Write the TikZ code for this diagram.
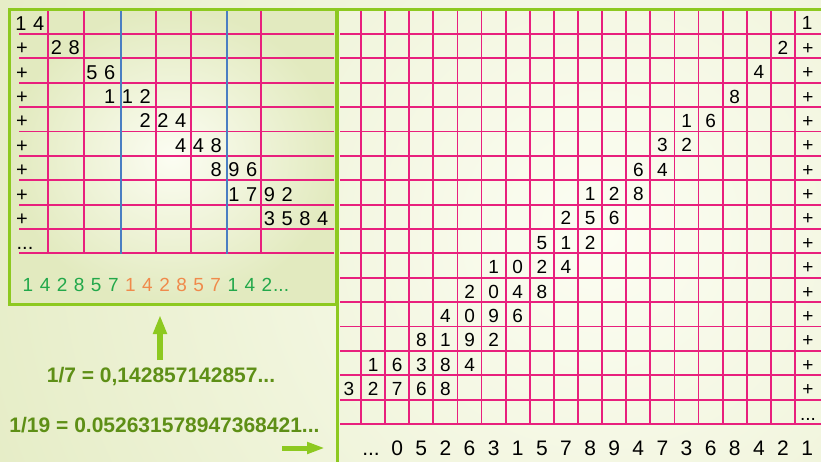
\documentclass[tikz,border=0pt]{standalone}
\usepackage{fontspec}
\setmainfont{Liberation Sans}
\usetikzlibrary{arrows.meta}
\definecolor{pinkc}{HTML}{E8207D}
\definecolor{bluec}{HTML}{4A7EC2}
\definecolor{greenb}{HTML}{8DC920}
\definecolor{darkg}{HTML}{5E8F16}
\definecolor{digg}{HTML}{22A84A}
\definecolor{digo}{HTML}{F08A4B}
\definecolor{bgin}{HTML}{FCFDF3}
\definecolor{bgout}{HTML}{E2EABF}
\newcommand\lrow[3]{%
  \foreach \d [count=\i from #2] in {#3} {\node[digL] (L-#1-\i) at ({21+17.75*\i},{30.5+24.375*#1}) {\d};}}
\newcommand\rrow[3]{%
  \foreach \d [count=\i from #2] in {#3} {\node[digR] (R-#1-\i) at ({349+24.11*\i},{30+24.375*#1}) {\d};}}
\begin{document}
\begin{tikzpicture}[x=1pt,y=-1pt,
  pinkline/.style={draw=pinkc,line width=1.8pt},
  blueline/.style={draw=bluec,line width=1.6pt},
  border/.style={draw=greenb,line width=3pt},
  digL/.style={font=\fontsize{20}{20}\selectfont,anchor=base,inner sep=0pt},
  digR/.style={font=\fontsize{19}{19}\selectfont,anchor=base,inner sep=0pt},
  digB/.style={font=\fontsize{21}{21}\selectfont,anchor=base,inner sep=0pt},
  digS/.style={font=\fontsize{19}{19}\selectfont,anchor=base,inner sep=0pt},
  formula/.style={font=\fontsize{21}{21}\selectfont\bfseries,text=darkg,anchor=base,inner sep=0pt},
  garrow/.style={draw=greenb}]
\useasboundingbox (0,0) rectangle (821,462);
% background
\begin{scope}
  \clip (0,0) rectangle (821,462);
  \shade[inner color=bgin,outer color=bgout] (600,230) circle[radius=760pt];
  \shade[inner color=bgin,outer color=bgout] (9,9) rectangle (336,304);
\end{scope}
% left grid
\foreach \k in {0,...,9} \draw[pinkline] (19,{34+24.375*\k}) -- (334,{34+24.375*\k});
\foreach \x in {48,84,156,191,261} \draw[pinkline] (\x,10) -- (\x,254);
\foreach \x in {121,227} \draw[blueline] (\x,10) -- (\x,254);
% right grid
\foreach \k in {0,...,16} \draw[pinkline] (340,{34+24.375*\k}) -- (821,{34+24.375*\k});
\foreach \k in {0,...,18} \draw[pinkline] ({361+24.11*\k},10) -- ({361+24.11*\k},424);
% borders
\draw[border] (9.5,9.5) rectangle (336,304);
\draw[border] (337.5,462) -- (337.5,9.5) -- (822,9.5);
% left numbers
\lrow{0}{0}{1,4}
\lrow{1}{2}{2,8}
\lrow{2}{4}{5,6}
\lrow{3}{5}{1,1,2}
\lrow{4}{7}{2,2,4}
\lrow{5}{9}{4,4,8}
\lrow{6}{11}{8,9,6}
\lrow{7}{12}{1,7,9,2}
\lrow{8}{14}{3,5,8,4}
\foreach \r in {1,...,8} \node[digL] (LP-\r) at (22,{30.5+24.375*\r}) {+};
\node[digL] (LD) at (25,{30.5+24.375*9}) {...};
% green sequence
\foreach \d [count=\i from 0] in {1,4,2,8,5,7} \node[digS,text=digg] (G-\i) at ({28+17.07*\i},291.5) {\d};
\foreach \d [count=\i from 6] in {1,4,2,8,5,7} \node[digS,text=digo] (G-\i) at ({28+17.07*\i},291.5) {\d};
\foreach \d [count=\i from 12] in {1,4,2} \node[digS,text=digg] (G-\i) at ({28+17.07*\i},291.5) {\d};
\node[digS,text=digg,anchor=base west] (GD) at (273,291.5) {...};
% right numbers
\rrow{0}{19}{1}
\rrow{1}{18}{2}
\rrow{2}{17}{4}
\rrow{3}{16}{8}
\rrow{4}{14}{1,6}
\rrow{5}{13}{3,2}
\rrow{6}{12}{6,4}
\rrow{7}{10}{1,2,8}
\rrow{8}{9}{2,5,6}
\rrow{9}{8}{5,1,2}
\rrow{10}{6}{1,0,2,4}
\rrow{11}{5}{2,0,4,8}
\rrow{12}{4}{4,0,9,6}
\rrow{13}{3}{8,1,9,2}
\rrow{14}{1}{1,6,3,8,4}
\rrow{15}{0}{3,2,7,6,8}
\foreach \r in {1,...,15} \node[digR] (RP-\r) at (808,{30+24.375*\r}) {+};
\node[digR] (RD) at (808,{30+24.375*16}) {...};
% bottom digits of 1/19
\node[digB] (BD) at (371,455) {...};
\foreach \d [count=\i from 2] in {0,5,2,6,3,1,5,7,8,9,4,7,3,6,8,4,2,1}
  \node[digB] (B-\i) at ({349+24.11*\i},455) {\d};
% formulas
\node[formula] (f7) at (161,382) {1/7 = 0,142857142857...};
\node[formula] (f19) at (164.5,432) {1/19 = 0.052631578947368421...};
% arrows
\coordinate (upS) at (160,360);
\coordinate (upE) at (160,315);
\coordinate (rtS) at (282,448);
\coordinate (rtE) at (325,448);
\draw[garrow,line width=6pt,-{Triangle[width=13pt,length=19pt]}] (upS) -- (upE);
\draw[garrow,line width=5pt,-{Triangle[width=11pt,length=18pt]}] (rtS) -- (rtE);
\end{tikzpicture}
\end{document}
